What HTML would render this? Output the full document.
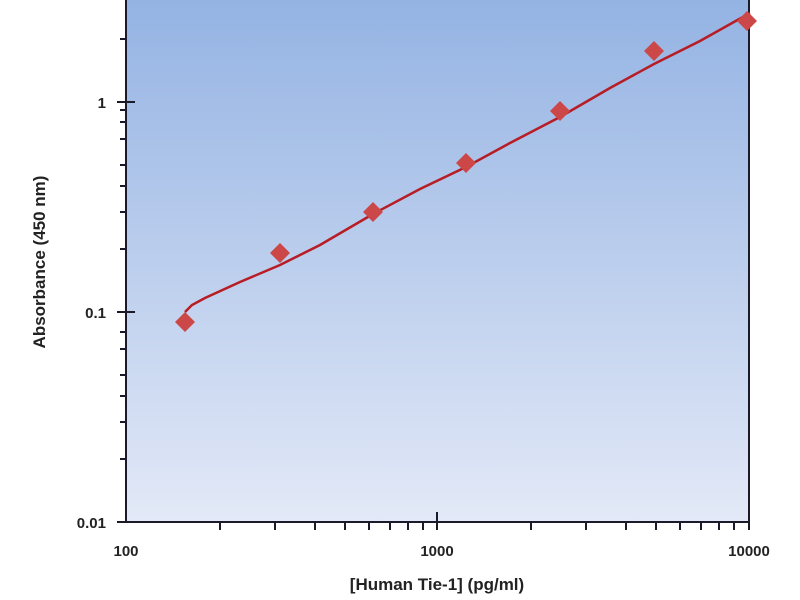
<!DOCTYPE html>
<html><head><style>body{margin:0;background:#fff}svg{display:block}</style></head><body>
<svg width="800" height="600" xmlns="http://www.w3.org/2000/svg" font-family="Liberation Sans, sans-serif">
<defs><linearGradient id="g" x1="0" y1="0" x2="0" y2="1"><stop offset="0" stop-color="#94b3e3"/><stop offset="1" stop-color="#e3e9f7"/></linearGradient></defs>
<rect x="126" y="0" width="623" height="522" fill="url(#g)"/>
<g stroke="#1a1a2a" stroke-width="2" fill="none">
<path d="M126,0 V522 H749 V0"/>
<path d="M117,102 H135 M117,312 H135 M117,522 H126"/>
<path d="M120,39 H126 M120,165 H126 M120,139 H126 M120,122 H126 M120,110 H126 M120,249 H126 M120,212 H126 M120,186 H126 M120,375 H126 M120,349 H126 M120,332 H126 M120,459 H126 M120,422 H126 M120,396 H126"/>
<path d="M437,512 V530 M749,522 V530"/>
<path d="M220,522 V530 M275,522 V530 M315,522 V530 M345,522 V530 M369,522 V530 M390,522 V530 M408,522 V530 M423,522 V530 M531,522 V530 M586,522 V530 M626,522 V530 M656,522 V530 M680,522 V530 M701,522 V530 M719,522 V530 M734,522 V530"/>
</g>
<polyline fill="none" stroke="#b81c24" stroke-width="2.5" points="185,312 192,305 205,298 240,282 280,265 320,245 373,214 420,189 466,167 510,143 560,117 610,88 654,64 700,41 750,13"/>
<g fill="#cc4848">
<path d="M185,312 l10,10 -10,10 -10,-10z"/><path d="M280,243 l10,10 -10,10 -10,-10z"/><path d="M373,202 l10,10 -10,10 -10,-10z"/><path d="M466,153 l10,10 -10,10 -10,-10z"/><path d="M560,101 l10,10 -10,10 -10,-10z"/><path d="M654,41 l10,10 -10,10 -10,-10z"/><path d="M747,11 l10,10 -10,10 -10,-10z"/>
</g>
<g font-size="15" font-weight="bold" fill="#222" text-anchor="end">
<text x="106" y="108">1</text><text x="106" y="318">0.1</text><text x="106" y="528">0.01</text>
</g>
<g font-size="15" font-weight="bold" fill="#222" text-anchor="middle">
<text x="126" y="556">100</text><text x="437" y="556">1000</text><text x="749" y="556">10000</text>
<text x="437" y="590" font-size="17">[Human Tie-1] (pg/ml)</text>
<text transform="translate(45,262) rotate(-90)" font-size="17">Absorbance (450 nm)</text>
</g>
</svg>
</body></html>
